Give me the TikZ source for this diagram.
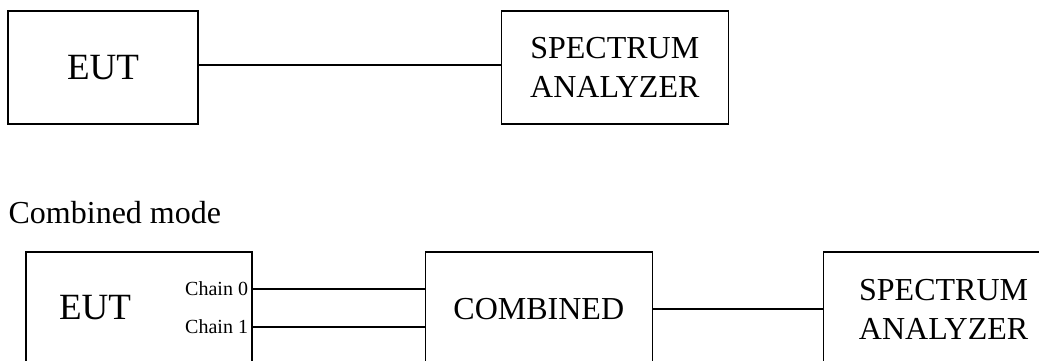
\documentclass[tikz,border=0pt]{standalone}
\usepackage{fontspec}
\setmainfont{Liberation Serif}
\usetikzlibrary{calc, positioning}

\begin{document}
\begin{tikzpicture}[x=1pt, y=-1pt, line width=1.3pt]

    % Estilos
    \tikzstyle{block} = [rectangle, draw, inner sep=0pt, align=center, minimum width=227pt, minimum height=114pt]
    \tikzstyle{bigtext} = [font=\fontsize{37}{44}\selectfont]
    \tikzstyle{boxtext} = [font=\fontsize{32}{39}\selectfont]
    \tikzstyle{chaintext} = [font=\fontsize{20}{24}\selectfont, inner sep=0pt, anchor=east]
    \tikzstyle{line} = [draw, line width=1.3pt]

    % Margens da figura
    \clip (0,0) rectangle (1039,361);

    % Modo simples (em cima)
    \node [block, bigtext, minimum width=190pt, minimum height=113pt] (eut) at (103,67.5) {EUT};
    \node [block, boxtext, minimum height=113pt, right=302pt of eut] (analyzer) {SPECTRUM\\ANALYZER};
    \path [line] ([yshift=2.5pt]eut.east) -- ([yshift=2.5pt]analyzer.west);

    % Modo combinado (embaixo)
    \node [boxtext, anchor=base west, inner sep=0pt] (mode) at (8,223) {Combined mode};
    \node [block, minimum width=226pt] (eut2) at (139,309) {};
    \node [bigtext, inner sep=0pt] (eut2text) at (95,308) {EUT};
    \node [block, boxtext, right=172pt of eut2] (combined) {COMBINED};
    \node [block, boxtext, minimum width=240pt, right=170pt of combined] (analyzer2) {SPECTRUM\\ANALYZER};

    % Saidas das cadeias
    \coordinate (chain0pt) at ($(eut2.east)+(0,-20)$);
    \coordinate (chain1pt) at ($(eut2.east)+(0,18)$);
    \node [chaintext] (chain0) at ($(chain0pt)+(-4,0)$) {Chain 0};
    \node [chaintext] (chain1) at ($(chain1pt)+(-4,0)$) {Chain 1};

    % Ligacoes
    \path [line] (chain0pt) -- (chain0pt -| combined.west);
    \path [line] (chain1pt) -- (chain1pt -| combined.west);
    \path [line] (combined) -- (analyzer2);
\end{tikzpicture}
\end{document}
